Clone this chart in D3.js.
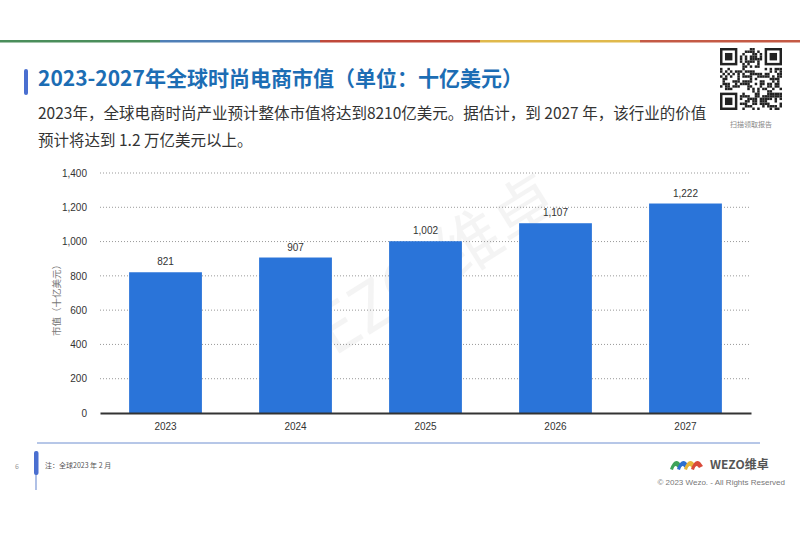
<!DOCTYPE html>
<html>
<head>
<meta charset="utf-8">
<script src="https://cdn.jsdelivr.net/npm/d3@7"></script>
<style>
  body { margin: 0; background: #fff; }
  svg { display: block; font-family: "Noto Sans CJK SC", "Liberation Sans", sans-serif; }
</style>
</head>
<body>
<div id="chart"></div>
<script>
// Chart data
const years = ["2023", "2024", "2025", "2026", "2027"];
const marketValues = [821, 907, 1002, 1107, 1222];
const yTicks = [0, 200, 400, 600, 800, 1000, 1200, 1400];
const stripeColors = ["#4b8e5b", "#4f7fb7", "#c0493b", "#e0b94c", "#c45a45"];

const width = 800, height = 533;
const svg = d3.select("#chart").append("svg")
  .attr("width", width).attr("height", height);

// Top colour stripe
const stripe = d3.scaleBand().domain(d3.range(stripeColors.length)).range([0, width]);
svg.append("g").selectAll("rect").data(stripeColors).enter().append("rect")
  .attr("x", (_, i) => stripe(i)).attr("y", 40)
  .attr("width", stripe.bandwidth()).attr("height", 2.5)
  .attr("fill", d => d);

// Title block
svg.append("rect").attr("x", 24).attr("y", 69).attr("width", 4).attr("height", 26)
  .attr("rx", 2).attr("fill", "#4a6fd0");
svg.append("text").attr("x", 38).attr("y", 86)
  .attr("font-size", 21).attr("font-weight", "bold").attr("fill", "#1c6db4")
  .text("2023-2027年全球时尚电商市值（单位：十亿美元）");
svg.append("text").attr("x", 38).attr("y", 119)
  .attr("font-size", 15.5).attr("fill", "#333")
  .text("2023年，全球电商时尚产业预计整体市值将达到8210亿美元。据估计，到 2027 年，该行业的价值");
svg.append("text").attr("x", 38).attr("y", 146)
  .attr("font-size", 15.5).attr("fill", "#333")
  .text("预计将达到 1.2 万亿美元以上。");

// QR code placeholder (deterministic pattern)
const qr = svg.append("g").attr("transform", "translate(720,48)");
const qrN = 25, qrS = 62 / qrN;
let seed = 7;
for (let r = 0; r < qrN; r++) {
  for (let c = 0; c < qrN; c++) {
    seed = (seed * 1103515245 + 12345) % 2147483648;
    const inFinder = (r < 8 && c < 8) || (r < 8 && c >= qrN - 8) || (r >= qrN - 8 && c < 8);
    if (!inFinder && (seed >> 16) % 2 === 0) {
      qr.append("rect").attr("x", c * qrS).attr("y", r * qrS)
        .attr("width", qrS).attr("height", qrS).attr("fill", "#222");
    }
  }
}
[[0, 0], [qrN - 7, 0], [0, qrN - 7]].forEach(([c, r]) => {
  qr.append("rect").attr("x", c * qrS + qrS / 2).attr("y", r * qrS + qrS / 2)
    .attr("width", 6 * qrS).attr("height", 6 * qrS)
    .attr("fill", "none").attr("stroke", "#222").attr("stroke-width", qrS);
  qr.append("rect").attr("x", (c + 2) * qrS).attr("y", (r + 2) * qrS)
    .attr("width", 3 * qrS).attr("height", 3 * qrS).attr("fill", "#222");
});
svg.append("text").attr("x", 751).attr("y", 127).attr("text-anchor", "middle")
  .attr("font-size", 7).attr("fill", "#888").text("扫描领取报告");

// Chart area
const margin = { left: 100, right: 751, top: 173, bottom: 413 };
const x = d3.scaleBand().domain(years).range([margin.left, margin.right])
  .paddingInner(0.44).paddingOuter(0.224);
const y = d3.scaleLinear().domain([0, 1400]).range([margin.bottom, margin.top]);

// Watermark
svg.append("text")
  .attr("transform", "translate(425,300) rotate(-32)")
  .attr("text-anchor", "middle").attr("font-size", 66)
  .attr("fill", "#000").attr("opacity", 0.04)
  .text("WEZO 维卓");

// Gridlines
svg.append("g").selectAll("line").data(yTicks.slice(1)).enter().append("line")
  .attr("x1", margin.left).attr("x2", margin.right)
  .attr("y1", d => y(d)).attr("y2", d => y(d))
  .attr("stroke", "#999").attr("stroke-width", 1).attr("stroke-dasharray", "1,2");

// Y axis
const yAxis = svg.append("g")
  .attr("transform", `translate(${margin.left - 10},0)`)
  .call(d3.axisLeft(y).tickValues(yTicks).tickSize(0).tickFormat(d3.format(",")));
yAxis.select(".domain").remove();
yAxis.selectAll("text").attr("font-size", 10).attr("fill", "#333")
  .attr("font-family", "Liberation Sans, sans-serif");

svg.append("text")
  .attr("transform", `translate(60,${(margin.top + margin.bottom) / 2 + 5}) rotate(-90)`)
  .attr("text-anchor", "middle").attr("font-size", 9.5).attr("fill", "#777")
  .text("市值（十亿美元）");

// Bars
svg.append("g").selectAll("rect").data(marketValues).enter().append("rect")
  .attr("x", (_, i) => x(years[i])).attr("width", x.bandwidth())
  .attr("y", d => y(d)).attr("height", d => y(0) - y(d))
  .attr("fill", "#2a74d9");

// Value labels
svg.append("g").selectAll("text").data(marketValues).enter().append("text")
  .attr("x", (_, i) => x(years[i]) + x.bandwidth() / 2)
  .attr("y", d => y(d) - 7)
  .attr("text-anchor", "middle").attr("font-size", 10).attr("fill", "#333")
  .attr("font-family", "Liberation Sans, sans-serif")
  .text(d => d3.format(",")(d));

// X axis
const xAxis = svg.append("g")
  .attr("transform", `translate(0,${y(0)})`)
  .call(d3.axisBottom(x).tickSize(0).tickPadding(10));
xAxis.select(".domain").attr("stroke", "#333").attr("stroke-width", 2);
xAxis.selectAll("text").attr("font-size", 10).attr("fill", "#333")
  .attr("font-family", "Liberation Sans, sans-serif");

// Footer
svg.append("line").attr("x1", 37).attr("x2", 760).attr("y1", 443).attr("y2", 443)
  .attr("stroke", "#6f8fd0").attr("stroke-width", 1);
svg.append("line").attr("x1", 36).attr("x2", 36).attr("y1", 452).attr("y2", 490)
  .attr("stroke", "#7b97d6").attr("stroke-width", 1.2);
svg.append("rect").attr("x", 34).attr("y", 451).attr("width", 4.5).attr("height", 24)
  .attr("rx", 2).attr("fill", "#4a6fd0");
svg.append("text").attr("x", 15).attr("y", 469).attr("font-size", 7).attr("fill", "#999").text("6");
svg.append("text").attr("x", 45).attr("y", 468).attr("font-size", 7).attr("fill", "#555")
  .text("注：全球2023 年 2 月");

// Logo
const logo = svg.append("g").attr("transform", "translate(670,456)");
[["#3fa35a", 0], ["#2e6fd0", 7], ["#e8b53a", 14], ["#d94a3a", 21]].forEach(([c, dx]) => {
  logo.append("path")
    .attr("d", `M${dx},13 Q${dx + 4},2 ${dx + 9},6 L${dx + 12},10 L${dx + 8},12 Q${dx + 5},7 ${dx + 3},14 Z`)
    .attr("fill", c);
});
svg.append("text").attr("x", 710).attr("y", 469).attr("font-size", 12).attr("fill", "#555")
  .attr("font-weight", "bold").text("WEZO维卓");
svg.append("text").attr("x", 785).attr("y", 485).attr("text-anchor", "end")
  .attr("font-size", 8).attr("fill", "#777").attr("font-family", "Liberation Sans, sans-serif")
  .text("© 2023 Wezo. - All Rights Reserved");
</script>
</body>
</html>
